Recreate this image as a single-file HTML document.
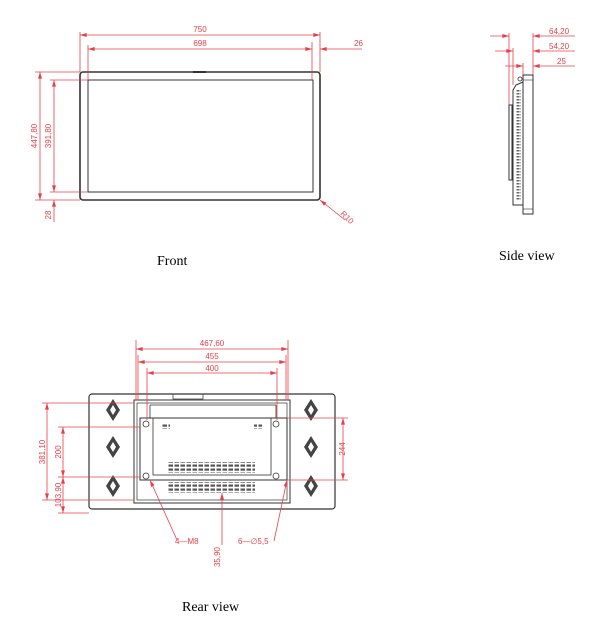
<!DOCTYPE html>
<html><head><meta charset="utf-8"><style>
html,body{margin:0;padding:0;background:#fff;width:606px;height:633px;overflow:hidden}
svg{display:block}
.r{stroke:#e8404a;stroke-width:0.8;fill:none}
.k{stroke:#333;fill:none}
.t{fill:#e8404a;font-family:"Liberation Sans",sans-serif;font-size:8px}
.lab{fill:#000;font-family:"Liberation Serif",serif;font-size:14px}
</style></head><body>
<svg width="606" height="633" viewBox="0 0 606 633" xmlns="http://www.w3.org/2000/svg">
<defs>
<marker id="a" viewBox="0 0 10 6" refX="10" refY="3" markerWidth="10" markerHeight="4" orient="auto-start-reverse" markerUnits="userSpaceOnUse"><path d="M0,0L10,3L0,6z" fill="#e8404a"/></marker>
<pattern id="v" width="6" height="4" patternUnits="userSpaceOnUse"><rect x="0.5" y="0.5" width="4.5" height="2.2" fill="#555"/></pattern>
<pattern id="sv" width="4" height="3" patternUnits="userSpaceOnUse"><rect x="0.5" y="0" width="3" height="1.5" fill="#666"/></pattern>
</defs>

<!-- FRONT -->
<rect x="80" y="72" width="240" height="128" rx="3" class="k" stroke-width="1.6"/>
<rect x="88" y="80" width="225" height="112" class="k" stroke-width="1"/>
<line x1="193" y1="72" x2="206" y2="72" stroke="#333" stroke-width="2"/>
<g class="r">
<line x1="80" y1="32" x2="80" y2="72"/><line x1="320" y1="32" x2="320" y2="72"/>
<line x1="88" y1="45" x2="88" y2="80"/><line x1="312" y1="42" x2="312" y2="80"/>
<line x1="80" y1="35" x2="320" y2="35" marker-start="url(#a)" marker-end="url(#a)"/>
<line x1="88" y1="49" x2="312" y2="49" marker-start="url(#a)" marker-end="url(#a)"/>
<line x1="320" y1="49" x2="362" y2="49" marker-start="url(#a)"/>
<line x1="35" y1="72" x2="80" y2="72"/><line x1="35" y1="200" x2="80" y2="200"/>
<line x1="50" y1="80" x2="88" y2="80"/><line x1="50" y1="192" x2="88" y2="192"/>
<line x1="40" y1="72" x2="40" y2="200" marker-start="url(#a)" marker-end="url(#a)"/>
<line x1="54" y1="80" x2="54" y2="192" marker-start="url(#a)" marker-end="url(#a)"/>
<line x1="54" y1="222" x2="54" y2="200" marker-end="url(#a)"/>
<line x1="345" y1="220" x2="320" y2="200" marker-end="url(#a)"/>
</g>
<text x="200" y="32" class="t" text-anchor="middle">750</text>
<text x="200" y="46" class="t" text-anchor="middle">698</text>
<text x="354" y="46" class="t">26</text>
<text transform="translate(37,136) rotate(-90)" class="t" text-anchor="middle">447,80</text>
<text transform="translate(51,136) rotate(-90)" class="t" text-anchor="middle">391,80</text>
<text transform="translate(51,215) rotate(-90)" class="t" text-anchor="middle">28</text>
<text transform="translate(340,214) rotate(45)" class="t">R10</text>
<text x="157" y="265" class="lab">Front</text>

<!-- SIDE -->
<g class="r">
<line x1="509" y1="33" x2="509" y2="105"/><line x1="533" y1="33" x2="533" y2="75"/>
<line x1="513" y1="48" x2="513" y2="85"/><line x1="523" y1="63" x2="523" y2="75"/>
<line x1="490" y1="36" x2="509" y2="36" marker-end="url(#a)"/><line x1="575" y1="36" x2="533" y2="36" marker-end="url(#a)"/>
<line x1="495" y1="51" x2="513" y2="51" marker-end="url(#a)"/><line x1="575" y1="51" x2="533" y2="51" marker-end="url(#a)"/>
<line x1="505" y1="66" x2="523" y2="66" marker-end="url(#a)"/><line x1="575" y1="66" x2="533" y2="66" marker-end="url(#a)"/>
</g>
<text x="549" y="34" class="t">64,20</text>
<text x="549" y="49" class="t">54,20</text>
<text x="557" y="64" class="t">25</text>
<rect x="523" y="75" width="10" height="139" class="k" stroke-width="1"/>
<line x1="523" y1="80" x2="533" y2="80" class="k" stroke-width="0.6"/><line x1="523" y1="209" x2="533" y2="209" class="k" stroke-width="0.6"/>
<path d="M516,85 L523,82 L523,205 L513,205 L513,90 Z" class="k" stroke-width="1"/>
<rect x="516" y="90" width="5" height="110" fill="url(#sv)"/>
<rect x="509" y="105" width="3" height="75" class="k" stroke-width="1"/>
<circle cx="520" cy="79" r="2" class="k" stroke-width="0.8"/>
<text x="499" y="260" class="lab">Side view</text>

<!-- REAR -->
<rect x="89" y="394" width="246" height="115" rx="3" class="k" stroke-width="1.2"/>
<rect x="134" y="400" width="156" height="103" class="k" stroke-width="1"/>
<rect x="137" y="403" width="150" height="97" class="k" stroke-width="0.7"/>
<rect x="140" y="418" width="147" height="62" class="k" stroke-width="1"/>
<rect x="153" y="418" width="118" height="57" class="k" stroke-width="0.8"/>
<line x1="150" y1="405" x2="276" y2="405" class="k" stroke-width="0.8"/>
<line x1="150" y1="405" x2="150" y2="418" class="k" stroke-width="0.8"/><line x1="276" y1="405" x2="276" y2="418" class="k" stroke-width="0.8"/>
<rect x="173" y="394" width="30" height="5" class="k" stroke-width="0.7"/>
<rect x="167" y="462" width="88" height="11" fill="url(#v)"/>
<rect x="167" y="482" width="88" height="11" fill="url(#v)"/>
<rect x="162" y="424" width="8" height="5" fill="url(#v)"/><rect x="254" y="424" width="8" height="5" fill="url(#v)"/>
<g fill="#444">
<path d="M113,399 l7,11 l-7,11 l-7,-11z"/><path d="M113,436 l7,11 l-7,11 l-7,-11z"/><path d="M113,475 l7,11 l-7,11 l-7,-11z"/>
<path d="M311,399 l7,11 l-7,11 l-7,-11z"/><path d="M311,436 l7,11 l-7,11 l-7,-11z"/><path d="M311,475 l7,11 l-7,11 l-7,-11z"/>
</g>
<g fill="#fff"><path d="M113,405 l3,5 l-3,5 l-3,-5z"/><path d="M113,442 l3,5 l-3,5 l-3,-5z"/><path d="M113,481 l3,5 l-3,5 l-3,-5z"/><path d="M311,405 l3,5 l-3,5 l-3,-5z"/><path d="M311,442 l3,5 l-3,5 l-3,-5z"/><path d="M311,481 l3,5 l-3,5 l-3,-5z"/></g>
<g class="k" stroke-width="0.8"><circle cx="146" cy="424" r="3"/><circle cx="276" cy="424" r="3"/><circle cx="146" cy="476" r="3"/><circle cx="276" cy="476" r="3"/></g>
<g class="r">
<line x1="136" y1="340" x2="136" y2="400"/><line x1="288" y1="340" x2="288" y2="400"/>
<line x1="138" y1="355" x2="138" y2="400"/><line x1="286" y1="355" x2="286" y2="400"/>
<line x1="147" y1="368" x2="147" y2="420"/><line x1="277" y1="368" x2="277" y2="420"/>
<line x1="136" y1="349" x2="288" y2="349" marker-start="url(#a)" marker-end="url(#a)"/>
<line x1="138" y1="362" x2="286" y2="362" marker-start="url(#a)" marker-end="url(#a)"/>
<line x1="147" y1="373" x2="277" y2="373" marker-start="url(#a)" marker-end="url(#a)"/>
<line x1="42" y1="403" x2="134" y2="403"/><line x1="42" y1="500" x2="134" y2="500"/>
<line x1="58" y1="427" x2="140" y2="427"/><line x1="58" y1="477" x2="140" y2="477"/><line x1="58" y1="513" x2="89" y2="513"/>
<line x1="47" y1="403" x2="47" y2="500" marker-start="url(#a)" marker-end="url(#a)"/>
<line x1="63" y1="427" x2="63" y2="477" marker-start="url(#a)" marker-end="url(#a)"/>
<line x1="63" y1="477" x2="63" y2="513" marker-start="url(#a)" marker-end="url(#a)"/>
<line x1="287" y1="418" x2="348" y2="418"/><line x1="287" y1="480" x2="348" y2="480"/>
<line x1="343" y1="418" x2="343" y2="480" marker-start="url(#a)" marker-end="url(#a)"/>
<line x1="177" y1="540" x2="150" y2="480" marker-end="url(#a)"/>
<line x1="222" y1="545" x2="222" y2="493" marker-end="url(#a)"/>
<line x1="274" y1="541" x2="287" y2="480" marker-end="url(#a)"/>
</g>
<text x="212" y="346" class="t" text-anchor="middle">467,60</text>
<text x="212" y="359" class="t" text-anchor="middle">455</text>
<text x="212" y="371" class="t" text-anchor="middle">400</text>
<text transform="translate(45,452) rotate(-90)" class="t" text-anchor="middle">381,10</text>
<text transform="translate(61,452) rotate(-90)" class="t" text-anchor="middle">200</text>
<text transform="translate(61,495) rotate(-90)" class="t" text-anchor="middle">103,90</text>
<text transform="translate(345,449) rotate(-90)" class="t" text-anchor="middle">244</text>
<text transform="translate(220,557) rotate(-90)" class="t" text-anchor="middle">35,90</text>
<text x="175" y="544" class="t">4—M8</text>
<text x="238" y="544" class="t">6—∅5,5</text>
<text x="182" y="611" class="lab">Rear view</text>
</svg>
</body></html>
